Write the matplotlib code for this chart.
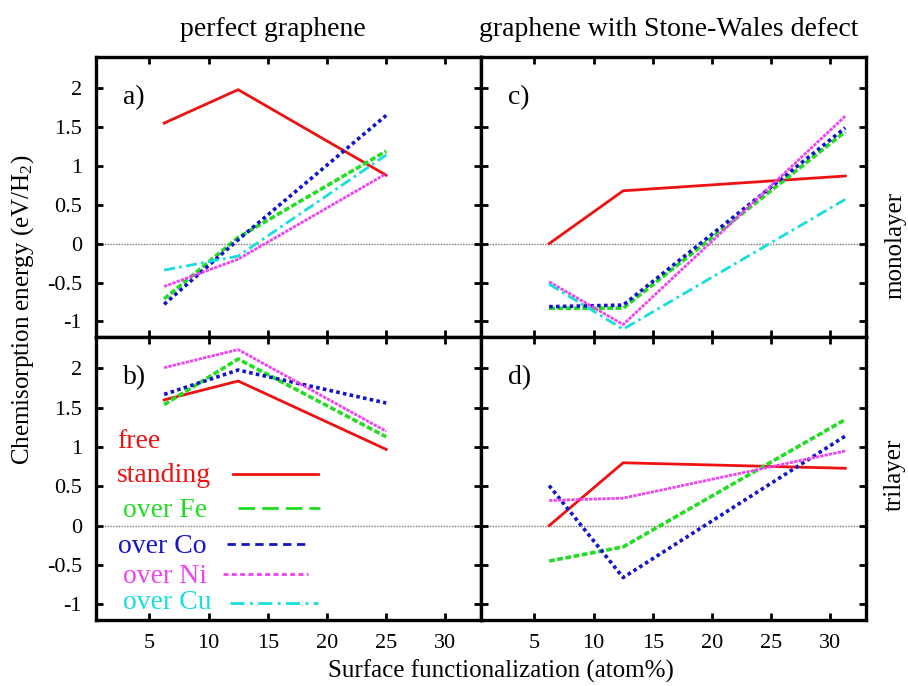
import matplotlib
matplotlib.use("Agg")
import matplotlib.pyplot as plt
from matplotlib.lines import Line2D
from matplotlib.ticker import FuncFormatter

plt.rcParams["font.family"] = ["Liberation Serif", "DejaVu Serif"]
plt.rcParams["mathtext.fontset"] = "custom"
plt.rcParams["mathtext.rm"] = "Liberation Serif"
plt.rcParams["mathtext.it"] = "Liberation Serif:italic"
plt.rcParams["axes.unicode_minus"] = False

# x positions (atom%)
x_perfect = [6.25, 12.5, 25.0]
x_sw = [6.25, 12.5, 31.25]

# a) perfect graphene, monolayer
a_free = [1.55, 1.98, 0.88]
a_fe = [-0.71, 0.08, 1.19]
a_co = [-0.78, 0.05, 1.65]
a_ni = [-0.55, -0.20, 0.90]
a_cu = [-0.34, -0.16, 1.14]

# b) perfect graphene, trilayer
b_free = [1.60, 1.84, 0.97]
b_fe = [1.54, 2.12, 1.13]
b_co = [1.67, 1.98, 1.56]
b_ni = [2.01, 2.24, 1.20]

# c) Stone-Wales, monolayer
c_free = [0.00, 0.68, 0.87]
c_fe = [-0.83, -0.83, 1.44]
c_co = [-0.81, -0.79, 1.49]
c_ni = [-0.49, -1.04, 1.64]
c_cu = [-0.52, -1.10, 0.57]

# d) Stone-Wales, trilayer
d_free = [0.00, 0.80, 0.73]
d_fe = [-0.45, -0.27, 1.35]
d_co = [0.51, -0.66, 1.14]
d_ni = [0.32, 0.35, 0.95]

x_ticks = [5, 10, 15, 20, 25, 30]
y_ticks = [-1, -0.5, 0, 0.5, 1, 1.5, 2]

keys = ["free", "fe", "co", "ni", "cu"]
key_labels = ["standing", "over Fe", "over Co", "over Ni", "over Cu"]
colors = {"free": "#ee1111", "fe": "#22dd22", "co": "#1515c8",
          "ni": "#ee44ee", "cu": "#18dede"}
# styles used for the curves (gnuplot renders them very dense)
plot_styles = {"free": "-", "fe": (0, (1.6, 0.7)), "co": (0, (1, 0.9)),
               "ni": (0, (1.2, 0.4)), "cu": (0, (4, 1.5, 1, 1.5))}
plot_widths = {"free": 2.0, "fe": 2.6, "co": 2.6, "ni": 2.0, "cu": 2.0}
# styles shown in the key
key_styles = {"free": "-", "fe": (0, (6, 2.5)), "co": (0, (3, 2)),
              "ni": (0, (1.8, 1.2)), "cu": (0, (5, 2, 1, 2))}


def style_axes(ax, show_x, show_y):
    ax.set_xlim(0.5, 33)
    ax.set_ylim(-1.2, 2.4)
    ax.set_xticks(x_ticks)
    ax.set_yticks(y_ticks)
    ax.yaxis.set_major_formatter(FuncFormatter(lambda v, p: "%g" % v))
    ax.tick_params(which="both", direction="in", top=True, right=True,
                   length=5, width=2, labelsize=16, pad=10,
                   labelbottom=show_x, labelleft=show_y)
    for spine in ax.spines.values():
        spine.set_linewidth(2.4)


def draw_panel(ax, x, series, tag, show_x, show_y):
    ax.axhline(0, color="#777777", lw=1.0, ls=(0, (1, 1)), zorder=1)
    for key, y in series:
        ax.plot(x, y, color=colors[key], ls=plot_styles[key],
                lw=plot_widths[key], zorder=3)
    style_axes(ax, show_x, show_y)
    ax.text(0.07, 0.855, tag, transform=ax.transAxes, fontsize=20,
            ha="left", va="center")


def draw_key(ax, box):
    # box = (left px, top px, right px, bottom px) of the axes in the figure
    x0, y0, x1, y1 = box

    def fx(px):
        return (px - x0) / (x1 - x0)

    def fy(py):
        return (y1 - py) / (y1 - y0)

    # text left, text baseline, line start, line end, line y  (pixels)
    rows = [(117, 482, 233, 318, 474),
            (123, 517, 238, 320, 508),
            (118, 553, 227, 307, 544),
            (123, 583, 223, 308, 574),
            (123, 609, 230, 318, 603)]
    ax.text(fx(117), fy(448), "free", color=colors["free"], fontsize=20,
            transform=ax.transAxes, ha="left", va="baseline")
    for key, label, (tx, ty, lx0, lx1, ly) in zip(keys, key_labels, rows):
        ax.text(fx(tx), fy(ty), label, color=colors[key], fontsize=20,
                transform=ax.transAxes, ha="left", va="baseline")
        ax.add_line(Line2D([fx(lx0), fx(lx1)], [fy(ly), fy(ly)],
                           transform=ax.transAxes, color=colors[key],
                           ls=key_styles[key], lw=2))


def main():
    fig = plt.figure(figsize=(9.08, 6.86), dpi=100)
    left_x, right_x, w = 96 / 908, 481 / 908, 385 / 908
    top_y, top_h = 349 / 686, 280 / 686
    bot_y, bot_h = 66 / 686, 283 / 686

    ax_a = fig.add_axes([left_x, top_y, w, top_h])
    ax_c = fig.add_axes([right_x, top_y, w, top_h])
    ax_b = fig.add_axes([left_x, bot_y, w, bot_h])
    ax_d = fig.add_axes([right_x, bot_y, w, bot_h])

    draw_panel(ax_a, x_perfect, [("free", a_free), ("fe", a_fe), ("co", a_co),
                                 ("ni", a_ni), ("cu", a_cu)], "a)", False, True)
    draw_panel(ax_b, x_perfect, [("free", b_free), ("fe", b_fe), ("co", b_co),
                                 ("ni", b_ni)], "b)", True, True)
    draw_panel(ax_c, x_sw, [("free", c_free), ("fe", c_fe), ("co", c_co),
                            ("ni", c_ni), ("cu", c_cu)], "c)", False, False)
    draw_panel(ax_d, x_sw, [("free", d_free), ("fe", d_fe), ("co", d_co),
                            ("ni", d_ni)], "d)", True, False)

    draw_key(ax_b, (96, 337, 481, 620))

    fig.text(273 / 908, 1 - 30 / 686, "perfect graphene", fontsize=20,
             ha="center", va="center")
    fig.text(669 / 908, 1 - 30 / 686, "graphene with Stone-Wales defect",
             fontsize=20, ha="center", va="center")
    fig.text(895 / 908, 1 - 245 / 686, "monolayer", fontsize=18,
             rotation=90, ha="center", va="center")
    fig.text(895 / 908, 1 - 475 / 686, "trilayer", fontsize=18,
             rotation=90, ha="center", va="center")
    fig.text(23 / 908, 1 - 310 / 686, r"Chemisorption energy (eV/H$_2$)",
             fontsize=18, rotation=90, ha="center", va="center")
    fig.text(501 / 908, 1 - 671 / 686, "Surface functionalization (atom%)",
             fontsize=18, ha="center", va="center")

    fig.savefig("out.png", dpi=100)


if __name__ == "__main__":
    main()
